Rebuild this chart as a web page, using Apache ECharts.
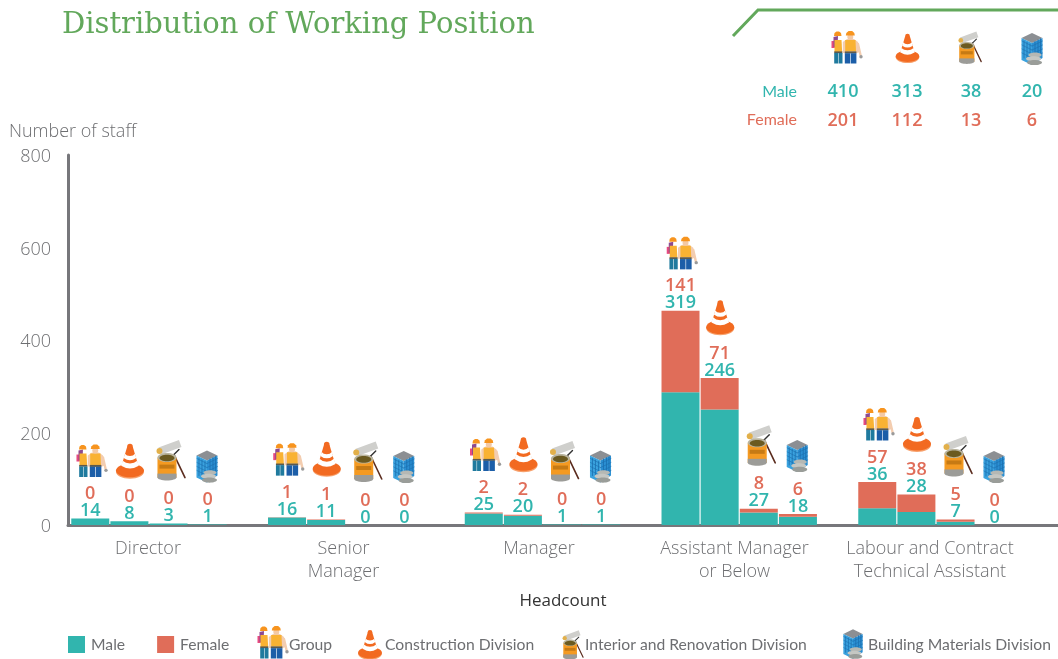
<!DOCTYPE html>
<html><head><meta charset="utf-8">
<style>html,body{margin:0;padding:0;background:#fff}#c{width:1058px;height:659px}</style>
<script src="https://cdn.jsdelivr.net/npm/echarts@6/dist/echarts.min.js"></script>
</head><body><div id="c"></div>
<script>
// ---- data ----
const categories = ['Director','Senior\nManager','Manager','Assistant Manager\nor Below','Labour and Contract\nTechnical Assistant'];
const yTicks = [0,200,400,600,800];
const divisions = ['Group','Construction Division','Interior and Renovation Division','Building Materials Division'];
// printed labels
const groupMale = [14,16,25,319,36];
const groupFemale = [0,1,2,141,57];
const constructionMale = [8,11,20,246,28];
const constructionFemale = [0,1,2,71,38];
const interiorMale = [3,0,1,27,7];
const interiorFemale = [0,0,0,8,5];
const materialsMale = [1,0,1,18,0];
const materialsFemale = [0,0,0,6,0];
// bar heights as drawn in the picture (the source's group bar split differs from its printed label)
const groupMaleBar = [14,16,25,287,36];
const groupFemaleBar = [0,1,2,176,57];
const constructionMaleBar = [8,11,20,250,28];
const constructionFemaleBar = [0,1,2,68,38];
const totalsMale = [410,313,38,20];
const totalsFemale = [201,112,13,6];

// ---- styling ----
const TEAL='#31B5AE', RED='#E06D59', GREY='#6D6E71', GREEN='#62A85B';
const LIGHT='Open Sans', NUM='Open Sans', NARROW='Lato';

function poly(points,fill){return {type:'polygon',shape:{points},style:{fill}};}
function ell(cx,cy,rx,ry,fill){return {type:'ellipse',shape:{cx,cy,rx,ry},style:{fill}};}
function circ(cx,cy,r,fill){return {type:'circle',shape:{cx,cy,r},style:{fill}};}
function box(x,y,width,height,fill){return {type:'rect',shape:{x,y,width,height},style:{fill}};}
function seg(x1,y1,x2,y2,stroke,lineWidth){return {type:'line',shape:{x1,y1,x2,y2},style:{stroke,lineWidth,lineCap:'round'}};}

const icons = {
  group: () => [
    box(-14.5,-7,3.4,7,'#E84A7F'),
    poly([[-12.5,-11],[-8,-12],[-8.5,-1],[-12.5,-1]],'#8D4A8F'),
    poly([[-12,-12],[-4.5,-12],[-5,-15],[-7,-16.5],[-9.5,-16.5],[-11.5,-15]],'#F7941E'),
    poly([[-11.5,-8],[-4.5,-8],[-3.8,4],[-11.5,4]],'#F9B233'),
    box(-11.8,3.4,8.2,1.8,'#5A5A50'),
    box(-11.8,5,3.9,10.5,'#1F7A9E'), box(-7.4,5,3.9,10.5,'#1F7A9E'),
    poly([[-3.2,-6],[1,-9],[8,-9],[12,-6],[13.5,4],[11,5],[-3.2,5]],'#F3CDB0'),
    poly([[-0.8,-8],[9.5,-8],[10,3.5],[-0.8,3.5]],'#F9B233'),
    circ(4.3,-11,3,'#F3C9A5'),
    poly([[-0.2,-12.5],[8.8,-12.5],[8.3,-15],[6.2,-17],[2.6,-17],[0.3,-15]],'#F7941E'),
    box(-1.2,3.4,11.6,2,'#5A5A50'),
    box(-1.2,5.2,5.5,10.3,'#1C5EA8'), box(4.9,5.2,5.5,10.3,'#1C5EA8'),
    seg(12,-4,14.5,7,'#F3CDB0',2.4),
    circ(15,8.8,1.7,'#9A9A9A')
  ],
  cone: () => [
    ell(0,10.4,14,7,'#F7A06B'),
    ell(0,9.2,14,6.8,'#F26A21'),
    poly([[-2.8,-14.5],[2.8,-14.5],[9.5,8],[-9.5,8]],'#F26A21'),
    circ(0,-14.8,2.8,'#F26A21'),
    ell(0,8,9.5,3.5,'#F26A21'),
    poly([[-5,-7.5],[-3,-5.8],[0,-5.2],[3,-5.8],[5,-7.5],[6.3,-3.4],[3,-1.5],[0,-1.1],[-3,-1.5],[-6.3,-3.4]],'#FFFFFF'),
    poly([[-7.3,-0.6],[-4,1.5],[0,2.2],[4,1.5],[7.3,-0.6],[8.8,4.5],[4,6.8],[0,7.3],[-4,6.8],[-8.8,4.5]],'#FFFFFF')
  ],
  paint: () => [
    seg(3,-6,14,17,'#5B2C1E',1.6),
    seg(8,-11,3,-6,'#333333',1.4),
    poly([[-12.5,-13],[8,-20.5],[10.5,-13.5],[-10,-6]],'#CFCFCC'),
    circ(-11.5,-9.5,3,'#E2B04A'),
    box(-13.5,-3,19,20,'#F49A22'),
    box(-13.5,13,19,4,'#9C9C98'),
    ell(-4,17,9.5,3,'#9C9C98'),
    box(-11.5,4,15,4,'#C67A14'),
    ell(-4,-3,9.5,4.5,'#B9B49E'),
    ell(-4,-2.6,7.5,3.3,'#6B5A20')
  ],
  building: () => {
    const k=[poly([[0,-16],[10.5,-11],[0,-6],[-10.5,-11]],'#8C8F93'),
      poly([[-10.5,-11],[0,-6],[0,16],[-10.5,11]],'#3AA2DE'),
      poly([[0,-6],[10.5,-11],[10.5,9],[0,16]],'#2B8FD2')];
    [-8,-5,-2].forEach(x=>k.push(seg(x,-8+(x+8)*0.5,x,9+(x+8)*0.5,'#1B6FAF',0.8)));
    [3,6,8.5].forEach(x=>k.push(seg(x,-6-(x)*0.5,x,10-(x)*0.5,'#1B6FAF',0.8)));
    [-3,1,5,9].forEach(y=>{
      k.push(seg(-10,y-5,0,y,'#1B6FAF',0.6));
      k.push(seg(0,y,10.5,y-5,'#1B6FAF',0.6));
    });
    k.push(ell(3,6,6.5,2.4,'#B5B8B4'));
    k.push(ell(1.5,9.8,7.5,2.5,'#C5C7C3'));
    k.push(ell(2.5,13.5,7.5,2.6,'#9A9D99'));
    return k;
  }
};
const iconKeys = ['group','cone','paint','building'];
function iconEl(key,x,y,s){return {type:'group',x,y,scaleX:s,scaleY:s,children:icons[key]()};}

// ---- chart ----
const labelFor = (males,females) => ({
  show:true, position:'top', distance:0, offset:[0,1],
  formatter:p=>`{f|${females[p.dataIndex]}}\n{m|${males[p.dataIndex]}}`,
  rich:{
    f:{color:RED,fontFamily:NUM,fontWeight:600,fontSize:18,lineHeight:17},
    m:{color:TEAL,fontFamily:NUM,fontWeight:600,fontSize:18,lineHeight:17}
  }
});
const sets = [
  ['g',groupMaleBar,groupFemaleBar,groupMale,groupFemale],
  ['c',constructionMaleBar,constructionFemaleBar,constructionMale,constructionFemale],
  ['i',interiorMale,interiorFemale,interiorMale,interiorFemale],
  ['m',materialsMale,materialsFemale,materialsMale,materialsFemale]
];
const series = [];
sets.forEach(([stack,mb,fb,ml,fl])=>{
  series.push({name:'Male',type:'bar',stack,xAxisIndex:0,yAxisIndex:0,data:mb,barWidth:38,barGap:'3%',itemStyle:{color:TEAL},silent:true});
  series.push({name:'Female',type:'bar',stack,xAxisIndex:0,yAxisIndex:0,data:fb,barWidth:38,barGap:'3%',itemStyle:{color:RED},label:labelFor(ml,fl),silent:true});
});
const slotShift=[-58,-19,22,58], lift=[57,60,63,58];
sets.forEach(([_,mb,fb],d)=>{
  series.push({
    type:'custom',xAxisIndex:0,yAxisIndex:0,silent:true,z:5,clip:false,
    data:mb.map((v,i)=>[i,v+fb[i]]),
    renderItem:(params,api)=>{
      const c=api.coord([api.value(0),api.value(1)]);
      return iconEl(iconKeys[d],c[0]+slotShift[d],c[1]-lift[d],1);
    }
  });
});

const graphicEls=[
  {type:'polyline',shape:{points:[[733,36],[758,10],[1058,10]]},style:{stroke:GREEN,lineWidth:3,fill:null}},
  iconEl('group',846,48,1), iconEl('cone',907.5,48.5,0.84), iconEl('paint',970,48,0.8), iconEl('building',1032,49,1)
];
function txt(text,x,y,fill,fontSize,fontWeight,align,fontFamily){
  return {type:'text',style:{text,x,y,fill,fontSize,fontWeight,align,verticalAlign:'middle',fontFamily}};
}
graphicEls.push(txt('Male',797,92,TEAL,16,400,'right',NARROW));
graphicEls.push(txt('Female',797,120,RED,16,400,'right',NARROW));
[843,907,971,1032].forEach((x,i)=>{
  graphicEls.push(txt(String(totalsMale[i]),x,92,TEAL,18,600,'center',NUM));
  graphicEls.push(txt(String(totalsFemale[i]),x,120.5,RED,18,600,'center',NUM));
});
// legend entries for the four divisions
[['group',272,643,1,289],['cone',370,645,0.85,385],['paint',573,645,0.72,585],['building',853,644,0.92,868]].forEach(([k,x,y,s,tx],i)=>{
  graphicEls.push(iconEl(k,x,y,s));
  graphicEls.push(txt(divisions[i],tx,645,GREY,15.7,400,'left',NARROW));
});

const axisText={color:GREY,fontFamily:LIGHT,fontWeight:300};
const option={
  animation:false,
  title:{text:'Distribution of Working Position',left:57,top:6,textStyle:{color:GREEN,fontFamily:'DejaVu Serif',fontWeight:400,fontSize:29}},
  legend:{data:['Male','Female'],left:63,top:631,itemWidth:17,itemHeight:17,itemGap:32,icon:'rect',selectedMode:false,
    textStyle:{color:GREY,fontFamily:NARROW,fontSize:15.7,padding:[0,0,0,1]}},
  grid:[
    {left:50.6,width:983.75,top:155,height:370},
    {left:68,right:0,top:155,height:370},
    {left:50.25,width:977.5,top:155,height:370}
  ],
  xAxis:[
    {gridIndex:0,type:'category',data:categories,axisLine:{show:false},axisTick:{show:false},axisLabel:{show:false}},
    {gridIndex:1,type:'value',min:0,max:1,axisLine:{show:true,lineStyle:{color:'#77777B',width:3}},axisTick:{show:false},axisLabel:{show:false},splitLine:{show:false},
      name:'Headcount',nameLocation:'middle',nameGap:68,nameTextStyle:{color:'#333',fontFamily:LIGHT,fontSize:17}},
    {gridIndex:2,type:'category',data:categories,axisLine:{show:false},axisTick:{show:false},
      axisLabel:{...axisText,fontSize:18,lineHeight:23,margin:12,interval:0}}
  ],
  yAxis:[
    {gridIndex:0,type:'value',min:0,max:800,interval:200,offset:-22,axisLine:{show:false},axisTick:{show:false},axisLabel:{show:false},splitLine:{show:false},
      name:'Number of staff',nameLocation:'end',nameGap:14,nameTextStyle:{...axisText,fontSize:18,align:'center'}},
    {gridIndex:1,type:'value',min:yTicks[0],max:yTicks[yTicks.length-1],interval:200,axisLine:{show:true,lineStyle:{color:'#77777B',width:3}},axisTick:{show:false},splitLine:{show:false},
      axisLabel:{...axisText,fontSize:18,margin:17,verticalAlign:'top',lineHeight:4}},
    {gridIndex:2,type:'value',show:false,min:0,max:800}
  ],
  series,
  graphic:{elements:graphicEls}
};
const chart=echarts.init(document.getElementById('c'),null,{renderer:'canvas'});
chart.setOption(option);
</script></body></html>
